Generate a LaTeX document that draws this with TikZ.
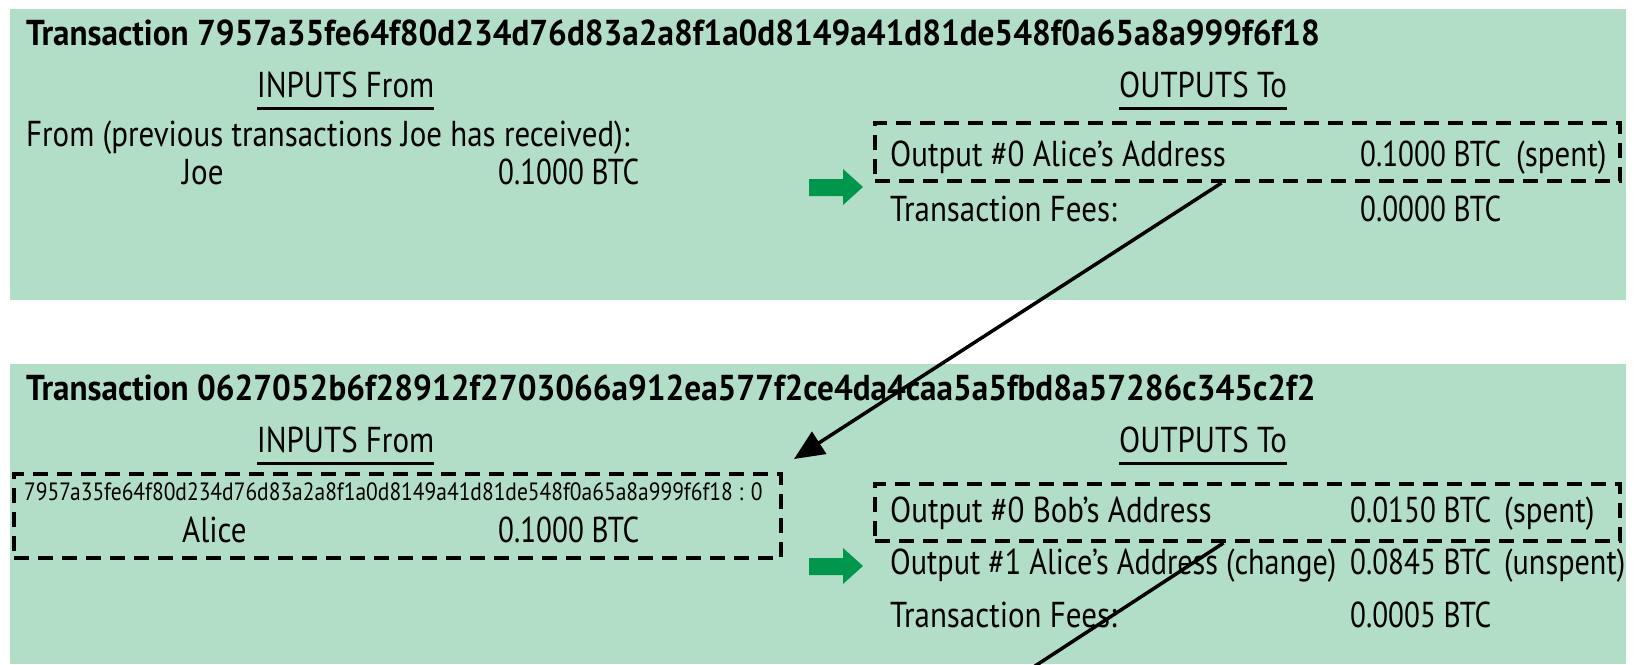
\documentclass[tikz,border=0pt]{standalone}
\usepackage{fontspec}
\setmainfont{PT Sans}[FakeStretch=0.86]
\newfontfamily\titlefont{PT Sans}[FakeStretch=0.92]
\newfontfamily\numfont{PT Sans}[FakeStretch=0.81]
\newfontfamily\midfont{PT Sans}[FakeStretch=0.84]
\usetikzlibrary{arrows.meta,calc}
\definecolor{panelbg}{RGB}{178,222,200}
\definecolor{garrow}{RGB}{0,150,75}
\begin{document}
\begin{tikzpicture}[x=1pt,y=-1pt,
  txt/.style={anchor=base west, inner sep=0pt, font=\fontsize{36}{40}\selectfont},
  mtxt/.style={anchor=base west, inner sep=0pt, font=\fontsize{36}{40}\midfont},
  amt/.style={anchor=base west, inner sep=0pt, font=\fontsize{36}{40}\numfont},
  ctxt/.style={anchor=base, inner sep=0pt, font=\fontsize{36}{40}\selectfont},
  small/.style={anchor=base west, inner sep=0pt, font=\fontsize{25}{29}\selectfont},
  ttl/.style={anchor=base west, inner sep=0pt, font=\fontsize{36}{40}\titlefont\bfseries},
  panel/.style={fill=panelbg, draw=none},
  dbox/.style={draw=black, line width=4pt, dash pattern=on 15pt off 9pt, inner sep=0pt},
  uline/.style={line width=3pt},
  link/.style={line width=3.5pt, -{Triangle[length=30pt,width=26pt]}},
  gr/.style={fill=garrow, draw=none}
]
\useasboundingbox (0,0) rectangle (1637,664);
\fill[white] (0,0) rectangle (1637,664);

% ---------- panel 1 ----------
\fill[panel] (10,9) rectangle (1626,300);
\node[ttl] (t1) at (26,45) {Transaction 7957a35fe64f80d234d76d83a2a8f1a0d8149a41d81de548f0a65a8a999f6f18};
\node[ctxt] (in1h) at (345.5,97) {INPUTS From};
\draw[uline] ([yshift=-11pt]in1h.base west) -- ([yshift=-11pt]in1h.base east);
\node[ctxt] (out1h) at (1203,97) {OUTPUTS To};
\draw[uline] ([yshift=-11pt]out1h.base west) -- ([yshift=-11pt]out1h.base east);
\node[txt] (from1) at (26,146) {From (previous transactions Joe has received):};
\node[txt] (joe) at (182,184) {Joe};
\node[amt] (joeamt) at (498,184) {0.1000 BTC};
\node[dbox, minimum width=745pt, minimum height=58pt] (o1) at (1247.5,152) {};
\node[txt] (o1a) at (890,166) {Output \#0 Alice’s Address};
\node[amt] (o1b) at (1360,166) {0.1000 BTC};
\node[txt] (o1c) at (1516,166) {(spent)};
\node[txt] (f1a) at (890,221) {Transaction Fees:};
\node[amt] (f1b) at (1360,221) {0.0000 BTC};
\fill[gr] (809,179) -- (843,179) -- (843,169) -- (863,187) -- (843,205) -- (843,196) -- (809,196) -- cycle;

% ---------- panel 2 ----------
\fill[panel] (10,364) rectangle (1626,664);
\node[ttl] (t2) at (26,400) {Transaction 0627052b6f28912f2703066a912ea577f2ce4da4caa5a5fbd8a57286c345c2f2};
\node[ctxt] (in2h) at (345.5,452) {INPUTS From};
\draw[uline] ([yshift=-11pt]in2h.base west) -- ([yshift=-11pt]in2h.base east);
\node[ctxt] (out2h) at (1203,452) {OUTPUTS To};
\draw[uline] ([yshift=-11pt]out2h.base west) -- ([yshift=-11pt]out2h.base east);
\node[dbox, minimum width=767pt, minimum height=84pt] (i2) at (397.5,516) {};
\node[small] (hash) at (24,500) {7957a35fe64f80d234d76d83a2a8f1a0d8149a41d81de548f0a65a8a999f6f18 : 0};
\node[txt] (alice) at (182,542) {Alice};
\node[amt] (aliceamt) at (498,542) {0.1000 BTC};
\node[dbox, minimum width=745pt, minimum height=57pt] (o2) at (1247.5,512.5) {};
\node[txt] (o2a) at (890,522) {Output \#0 Bob’s Address};
\node[amt] (o2b) at (1350,522) {0.0150 BTC};
\node[txt] (o2c) at (1504,522) {(spent)};
\node[mtxt] (o3a) at (890,574) {Output \#1 Alice’s Address (change)};
\node[amt] (o3b) at (1350,574) {0.0845 BTC};
\node[mtxt] (o3c) at (1504,574) {(unspent)};
\node[txt] (f2a) at (890,627) {Transaction Fees:};
\node[amt] (f2b) at (1350,627) {0.0005 BTC};
\fill[gr] (809,558) -- (843,558) -- (843,548) -- (863,566) -- (843,584) -- (843,575) -- (809,575) -- cycle;

% ---------- connectors ----------
\coordinate (c2e) at (796,822);
\draw[link] ([xshift=-26pt]o1.south) -- ([shift={(11,-13)}]i2.north east);
\draw[link] ([xshift=-24pt]o2.south) -- (c2e);
\end{tikzpicture}
\end{document}
